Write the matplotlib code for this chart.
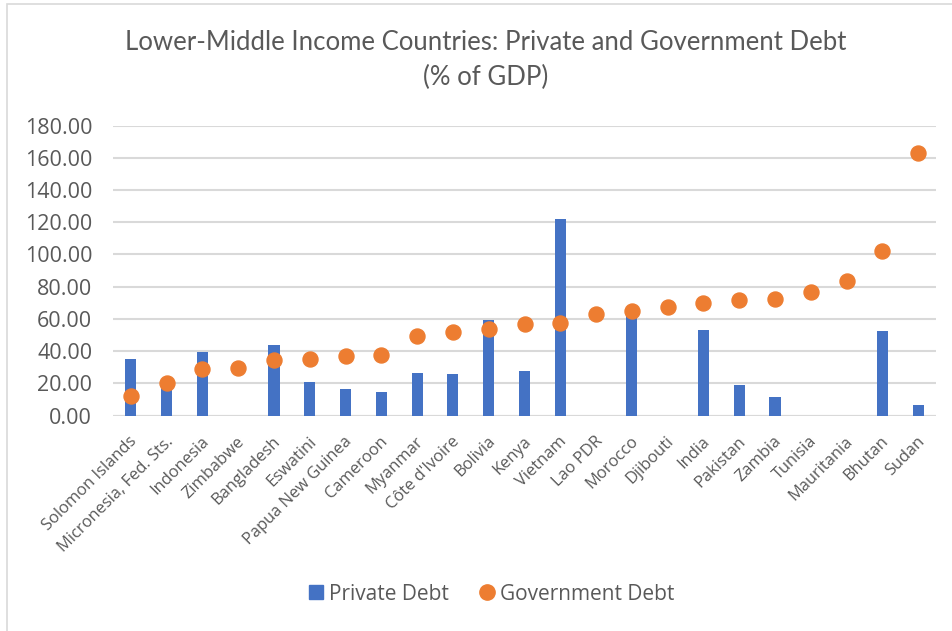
import matplotlib
matplotlib.use("Agg")
import matplotlib.pyplot as plt
import matplotlib.transforms as mtransforms
from matplotlib.patches import Rectangle
from matplotlib.lines import Line2D

countries = ["Solomon Islands", "Micronesia, Fed. Sts.", "Indonesia", "Zimbabwe",
             "Bangladesh", "Eswatini", "Papua New Guinea", "Cameroon", "Myanmar",
             "Côte d'Ivoire", "Bolivia", "Kenya", "Vietnam", "Lao PDR", "Morocco",
             "Djibouti", "India", "Pakistan", "Zambia", "Tunisia", "Mauritania",
             "Bhutan", "Sudan"]
private_debt = [35.1, 18.0, 39.4, 0, 43.8, 20.8, 16.5, 14.4, 26.2, 26.0, 59.1,
                27.4, 121.9, 0, 62.4, 0, 53.1, 18.9, 11.5, 0, 0, 52.7, 6.7]
govt_debt = [11.9, 20.2, 29.1, 29.7, 34.7, 35.0, 36.8, 37.6, 49.2, 52.1, 53.7,
             57.0, 57.7, 63.0, 64.9, 67.2, 69.7, 71.9, 72.2, 76.9, 83.7, 102.4, 163.0]
y_ticks = [0, 20, 40, 60, 80, 100, 120, 140, 160, 180]

BLUE = "#4472C4"
ORANGE = "#ED7D31"
GRID = "#D9D9D9"
TXT = "#595959"
plt.rcParams['font.family'] = ['Open Sans', 'DejaVu Sans']

fig = plt.figure(figsize=(9.52, 6.31), dpi=100)
# light chart-area border (runs off the right and bottom edges)
fig.patches.append(Rectangle((7 / 952, -0.1), 2, 1.1 - 4 / 631, transform=fig.transFigure,
                             fill=False, edgecolor=GRID, linewidth=1.2))

ax = fig.add_axes([113 / 952, 1 - 415.5 / 631, 823 / 952, (415.5 - 125.7) / 631])
x = list(range(len(countries)))
ax.bar(x, private_debt, width=0.31, color=BLUE, zorder=2)
ax.plot(x, govt_debt, 'o', color=ORANGE, markersize=10.8, zorder=3)

ax.set_xlim(-0.5, len(countries) - 0.5)
ax.set_ylim(0, 180)
ax.set_yticks(y_ticks)
ax.set_yticklabels([f"{v:.2f}" for v in y_ticks])
ax.yaxis.grid(True, color=GRID, linewidth=1.5, zorder=0)
ax.set_axisbelow(True)
for s in ["top", "right", "left", "bottom"]:
    ax.spines[s].set_visible(False)
ax.axhline(0, color=GRID, linewidth=1.5, zorder=1)
ax.tick_params(axis='both', length=0, colors=TXT)
ax.tick_params(axis='y', labelsize=15.5, pad=15)
ax.set_xticks(x)
ax.set_xticklabels(countries, rotation=45, ha='right', va='center',
                   rotation_mode='anchor', fontsize=11.9)
ax.tick_params(axis='x', pad=17)
shift = mtransforms.ScaledTranslation(4 / 100, 0, fig.dpi_scale_trans)
for lbl in ax.get_xticklabels():
    lbl.set_transform(lbl.get_transform() + shift)

fig.text(486 / 952, 1 - 43 / 631, "Lower-Middle Income Countries: Private and Government Debt",
         ha='center', va='center', fontsize=18.5, color=TXT, family=['Lato', 'DejaVu Sans'])
fig.text(486 / 952, 1 - 77 / 631, "(% of GDP)", ha='center', va='center', fontsize=18.5,
         color=TXT, family=['Lato', 'DejaVu Sans'])

handles = [Line2D([], [], marker='s', linestyle='none', color=BLUE, markersize=10.5),
           Line2D([], [], marker='o', linestyle='none', color=ORANGE, markersize=11)]
fig.legend(handles, ["Private Debt", "Government Debt"], loc='center',
           bbox_to_anchor=(490 / 952, 1 - 594 / 631), ncol=2, frameon=False,
           fontsize=15, labelcolor=TXT, handletextpad=0.15, columnspacing=1.3,
           handlelength=1.0)

fig.savefig("out.png", dpi=100)
